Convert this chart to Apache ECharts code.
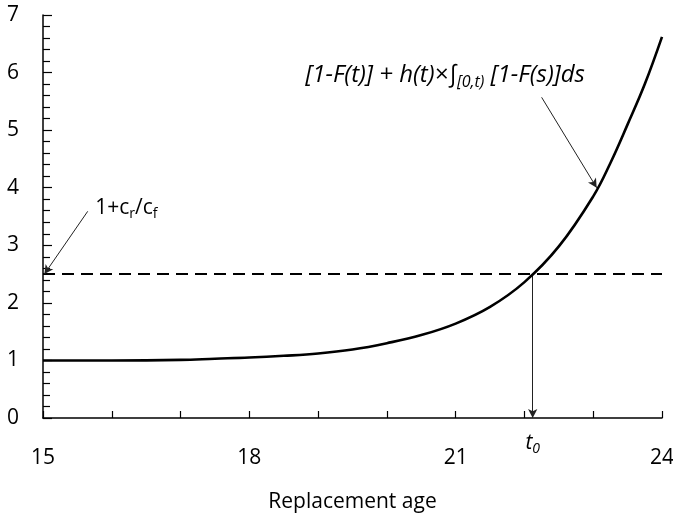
<!DOCTYPE html>
<html><head><meta charset="utf-8">
<script src="https://cdn.jsdelivr.net/npm/echarts@6/dist/echarts.min.js"></script>
<style>html,body{margin:0;padding:0;background:#fff}#chart{width:673px;height:515px}</style>
</head><body><div id="chart"></div>
<script>
// Expected relative cost versus replacement age
const ages = [15, 16, 17, 17.5, 18, 18.5, 19, 19.5, 20, 20.5, 21, 21.5, 22, 22.5, 23, 23.25, 23.5, 23.75, 24];
const costRatio = [1.00, 1.00, 1.01, 1.03, 1.05, 1.08, 1.12, 1.19, 1.30, 1.44, 1.64, 1.93, 2.36, 2.98, 3.85, 4.43, 5.10, 5.80, 6.62];
const threshold = 2.5;          // 1 + cr/cf
const optimalAge = 22.12;       // t0, where the curve crosses the threshold
const xLabelTicks = [15, 18, 21, 24];
const yTicks = [0, 1, 2, 3, 4, 5, 6, 7];

const FONT = '"Open Sans", Lato, sans-serif';
const chart = echarts.init(document.getElementById('chart'), null, { renderer: 'canvas' });

const curvePoints = ages.map((a, i) => [a, costRatio[i]]);
const arrowStyle = { color: '#222', width: 1, type: 'solid' };

chart.setOption({
  animation: false,
  backgroundColor: '#fff',
  grid: { left: 43, right: 11, top: 15, bottom: 97, containLabel: false, outerBoundsMode: 'none' },
  xAxis: {
    type: 'value', min: 15, max: 24, interval: 1,
    name: 'Replacement age', nameLocation: 'middle', nameGap: 74,
    nameTextStyle: { fontFamily: FONT, fontSize: 21, color: '#000' },
    axisLine: { lineStyle: { color: '#000', width: 1.5 } },
    axisTick: { inside: true, length: 7, lineStyle: { color: '#000', width: 1.2 } },
    axisLabel: {
      margin: 30, fontFamily: FONT, fontSize: 21, color: '#000',
      formatter: v => xLabelTicks.includes(v) ? String(v) : ''
    },
    splitLine: { show: false }
  },
  yAxis: {
    type: 'value', min: yTicks[0], max: yTicks[yTicks.length - 1], interval: 1,
    axisLine: { show: true, lineStyle: { color: '#000', width: 1.5 } },
    axisTick: { show: true, inside: true, length: 9, lineStyle: { color: '#000', width: 1.2 } },
    minorTick: { show: true, splitNumber: 5, length: 7, lineStyle: { color: '#000', width: 1.2 } },
    axisLabel: { margin: 24, fontFamily: FONT, fontSize: 21, color: '#000' },
    splitLine: { show: false }
  },
  series: [
    {
      type: 'line', data: curvePoints, smooth: 0.4, symbol: 'none',
      lineStyle: { color: '#000', width: 2.6 },
      z: 5,
      markLine: {
        silent: true, animation: false,
        label: { show: false },
        data: [
          // threshold level
          [
            { coord: [15, threshold], symbol: 'none', lineStyle: { color: '#000', width: 2, type: [12, 7] } },
            { coord: [24, threshold], symbol: 'none' }
          ],
          // drop from the crossing point to t0
          [
            { coord: [optimalAge, threshold], symbol: 'none', lineStyle: arrowStyle },
            { coord: [optimalAge, 0], symbol: 'arrow', symbolSize: [7, 9] }
          ],
          // pointer to the threshold
          [
            { coord: [15.65, 3.59], symbol: 'none', lineStyle: arrowStyle },
            { coord: [15.02, threshold], symbol: 'arrow', symbolSize: [7, 9] }
          ],
          // pointer to the curve
          [
            { coord: [22.25, 5.57], symbol: 'none', lineStyle: arrowStyle },
            { coord: [23.05, 4.0], symbol: 'arrow', symbolSize: [7, 9] }
          ]
        ]
      },
      markPoint: {
        silent: true, symbol: 'circle', symbolSize: 0,
        data: [
          {
            coord: [15.76, 3.65],
            label: {
              show: true, position: 'inside', align: 'left', verticalAlign: 'middle',
              formatter: '{n|1+c}{s|r}{n|/c}{s|f}',
              rich: {
                n: { fontFamily: FONT, fontSize: 21, color: '#000', lineHeight: 27 },
                s: { fontFamily: FONT, fontSize: 14, color: '#000', lineHeight: 14, verticalAlign: 'bottom' }
              }
            }
          },
          {
            coord: [22.88, 5.95],
            label: {
              show: true, position: 'inside', align: 'right', verticalAlign: 'middle',
              formatter: '{n|[1-F(t)] + h(t)×∫}{s|[0,t)}{n| [1-F(s)]ds}',
              rich: {
                n: { fontFamily: FONT, fontSize: 24, fontStyle: 'italic', color: '#000', lineHeight: 30 },
                s: { fontFamily: FONT, fontSize: 16, fontStyle: 'italic', color: '#000', lineHeight: 16, verticalAlign: 'bottom' }
              }
            }
          },
          {
            coord: [optimalAge, 0],
            label: {
              show: true, position: 'inside', align: 'center', verticalAlign: 'top', offset: [0, 12],
              formatter: '{n|t}{s|0}',
              rich: {
                n: { fontFamily: FONT, fontSize: 21, fontStyle: 'italic', color: '#000', lineHeight: 26 },
                s: { fontFamily: FONT, fontSize: 14, fontStyle: 'italic', color: '#000', lineHeight: 14, verticalAlign: 'bottom' }
              }
            }
          }
        ]
      }
    }
  ]
});
</script></body></html>
